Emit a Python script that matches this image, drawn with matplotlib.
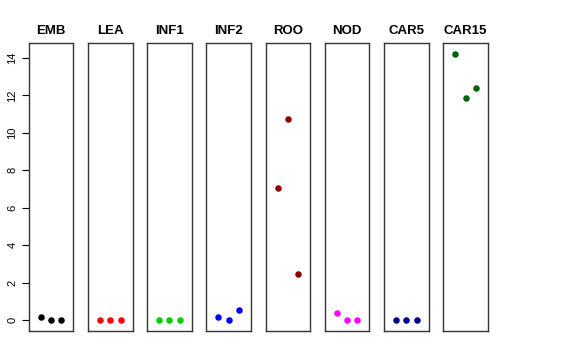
import matplotlib
matplotlib.use("Agg")
import matplotlib.pyplot as plt

plt.rcParams['font.family'] = ['Liberation Sans', 'DejaVu Sans']

etapas = ['EMB', 'LEA', 'INF1', 'INF2', 'ROO', 'NOD', 'CAR5', 'CAR15']
colores = ['black', 'red', '#00CD00', 'blue', '#8B0000', 'magenta', '#00008B', '#006400']
posiciones = [1, 2, 3]
valores = [
    [0.19, 0.0, 0.0],
    [0.0, 0.0, 0.0],
    [0.0, 0.0, 0.0],
    [0.16, 0.0, 0.53],
    [7.05, 10.75, 2.45],
    [0.37, 0.0, 0.0],
    [0.0, 0.0, 0.0],
    [14.21, 11.87, 12.4],
]
yticks = [0, 2, 4, 6, 8, 10, 12, 14]

W, H = 576, 360
fig = plt.figure(figsize=(W / 100, H / 100), dpi=100)

x0 = 28.7
paso = 59.23
ancho = 44.6
top, bottom = 43.3, 331.0

ymin, ymax = 0.0, 14.21
pad = 0.04 * (ymax - ymin)

for i, nombre in enumerate(etapas):
    ax = fig.add_axes([(x0 + i * paso) / W, (H - bottom) / H,
                       ancho / W, (bottom - top) / H])
    ax.scatter(posiciones, valores[i], s=22, color=colores[i], zorder=3,
               linewidths=0)
    ax.set_xlim(0 - 0.16, 4 + 0.16)
    ax.set_ylim(ymin - pad, ymax + pad)
    ax.set_xticks([])
    for s in ax.spines.values():
        s.set_linewidth(1.0)
        s.set_color('#333333')
    if i == 0:
        ax.set_yticks(yticks)
        ax.set_yticklabels([str(v) for v in yticks], rotation=90,
                           va='center', fontsize=8)
        ax.tick_params(axis='y', length=5, width=0.8, pad=3)
    else:
        ax.set_yticks([])
    ax.set_title(nombre, fontweight='bold', fontsize=9.5, pad=7)

fig.savefig('out.png', dpi=100)
